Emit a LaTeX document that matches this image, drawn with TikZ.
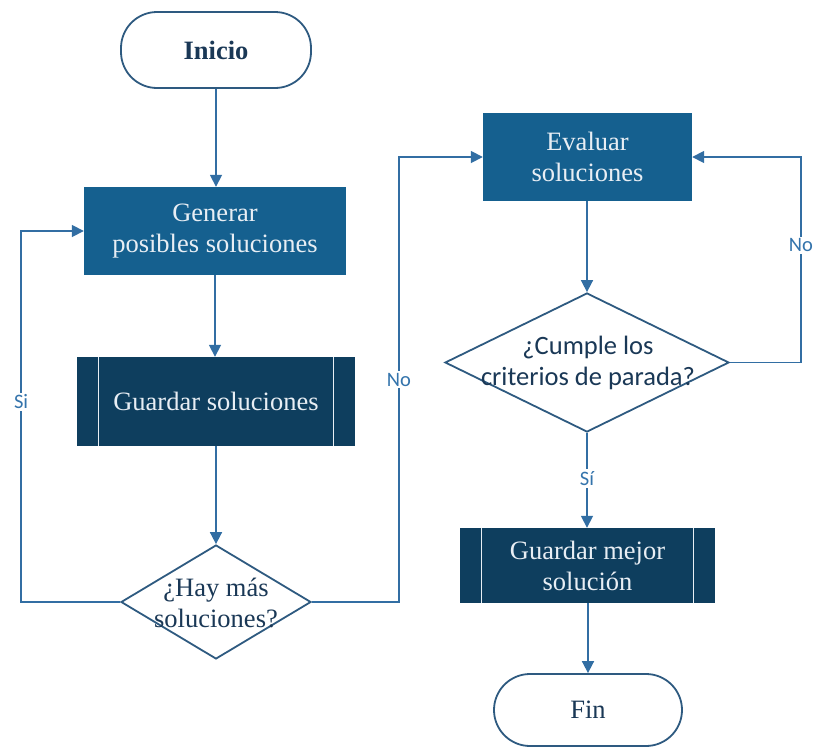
\documentclass[tikz,border=0pt]{standalone}
\usepackage{fontspec}
\setmainfont{Liberation Serif}
\newfontfamily\lblfont{Carlito}
\usetikzlibrary{shapes.geometric,arrows.meta}

\definecolor{boxblue}{RGB}{21,96,143}
\definecolor{boxdark}{RGB}{14,62,94}
\definecolor{edgeblue}{RGB}{46,90,128}
\definecolor{lineblue}{RGB}{50,110,163}
\definecolor{navytext}{RGB}{26,56,86}
\definecolor{boxtext}{RGB}{232,238,244}
\definecolor{lbltext}{RGB}{52,116,172}

\tikzset{
  bigtext/.style={font=\fontsize{26.5}{31}\selectfont},
  terminal/.style={draw=edgeblue, line width=1.8pt, fill=white, rounded corners=36pt,
    inner sep=0pt, text=navytext, bigtext},
  procbox/.style={fill=boxblue, draw=none, inner sep=0pt, align=center,
    text=boxtext, bigtext},
  savebox/.style={fill=boxdark, draw=none, inner sep=0pt, align=center,
    text=boxtext, bigtext},
  decision/.style={diamond, draw=edgeblue, line width=1.8pt, fill=white, inner sep=0pt},
  decisiontext/.style={align=center, text=navytext, bigtext, inner sep=0pt},
  conn/.style={draw=lineblue, line width=1.7pt, -{Triangle[length=12pt,width=12pt]}},
  edgelabel/.style={fill=white, text=lbltext, inner sep=2pt,
    font=\lblfont\fontsize{20.5}{24}\selectfont},
  sideline/.style={draw=boxtext, line width=1.3pt}
}

\begin{document}
\begin{tikzpicture}[x=1pt, y=-1pt]
  \useasboundingbox (0,0) rectangle (815,747);

  % start / end terminals
  \node[terminal, minimum width=190pt, minimum height=76pt] (ini) at (216,50) {\bfseries Inicio};
  \node[terminal, minimum width=188pt, minimum height=72pt] (fin) at (588,710) {Fin};

  % process boxes
  \node[procbox, minimum width=262pt, minimum height=88pt] (gen) at (215,231)
    {Generar\\posibles soluciones};
  \node[procbox, minimum width=209pt, minimum height=88pt] (ev) at (587.5,157)
    {Evaluar\\soluciones};

  % predefined-process boxes with inner side bars
  \node[savebox, minimum width=278pt, minimum height=89pt] (gs) at (216,401.5)
    {Guardar soluciones};
  \draw[sideline] ([xshift=22pt]gs.north west) -- ([xshift=22pt]gs.south west);
  \draw[sideline] ([xshift=-22pt]gs.north east) -- ([xshift=-22pt]gs.south east);

  \node[savebox, minimum width=255pt, minimum height=75pt] (gm) at (587.5,565.5)
    {Guardar mejor\\solución};
  \draw[sideline] ([xshift=22pt]gm.north west) -- ([xshift=22pt]gm.south west);
  \draw[sideline] ([xshift=-22pt]gm.north east) -- ([xshift=-22pt]gm.south east);

  % decisions
  \node[decision, minimum width=190pt, minimum height=114pt] (d1) at (216,602) {};
  \node[decisiontext] (d1t) at (216,603) {¿Hay más\\soluciones?};

  \node[decision, minimum width=284pt, minimum height=139pt] (d2) at (587,362.5) {};
  \node[decisiontext, font=\lblfont\fontsize{26.5}{31}\selectfont] (d2t) at (588,363)
    {¿Cumple los\\criterios de parada?};

  % main flow
  \draw[conn] (ini.south) -- (ini.south |- gen.north);
  \draw[conn] (gen.south) -- (gen.south |- gs.north);
  \draw[conn] (gs.south) -- (gs.south |- d1.north);
  \draw[conn] (ev.south -| d2.north) -- (d2.north);
  \draw[conn] (d2.south) -- node[edgelabel, pos=0.48] (lsi2) {Sí} (d2.south |- gm.north);
  \draw[conn] (gm.south -| fin.north) -- (fin.north);

  % loops
  \draw[conn] (d1.west) -- ++(-99pt,0) |- node[edgelabel, pos=0.27] (lsi1) {Si} (gen.west);
  \draw[conn] (d1.east) -- ++(87pt,0) |- node[edgelabel, pos=0.25] (lno1) {No} (ev.west);
  \draw[conn] (d2.east) -- ++(71pt,0) |- node[edgelabel, pos=0.285] (lno2) {No} (ev.east);
\end{tikzpicture}
\end{document}
